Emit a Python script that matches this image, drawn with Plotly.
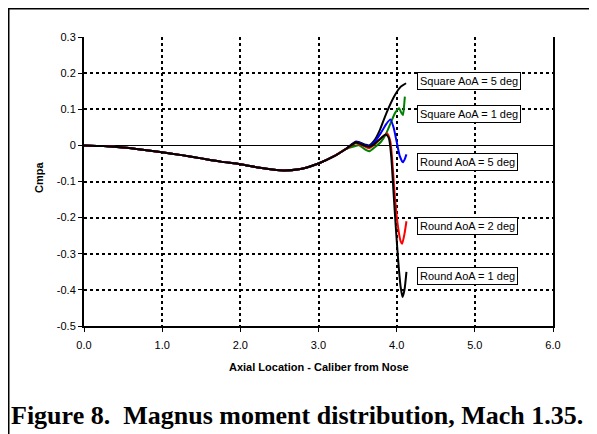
import plotly.graph_objects as go

# ---- data ----
common_x = [0.0, 0.25, 0.5, 0.75, 1.0, 1.25, 1.5, 1.75, 2.0, 2.25, 2.5, 2.75, 3.0, 3.2, 3.35]
common_y = [0.0, -0.002, -0.006, -0.012, -0.019, -0.027, -0.036, -0.045, -0.052, -0.062, -0.069, -0.066, -0.05, -0.03, -0.01]

sq5_x = [3.48, 3.6, 3.65, 3.72, 3.78, 3.83, 3.9, 3.98, 4.05, 4.12]
sq5_y = [0.011, 0.002, 0.0, 0.015, 0.04, 0.068, 0.105, 0.14, 0.162, 0.172]

sq1_x = [3.45, 3.52, 3.6, 3.65, 3.72, 3.8, 3.86, 3.92, 3.98, 4.03, 4.06, 4.08, 4.095, 4.105]
sq1_y = [-0.003, 0.0, -0.012, -0.016, -0.005, 0.01, 0.03, 0.06, 0.09, 0.103, 0.09, 0.084, 0.11, 0.135]

r5_x = [3.48, 3.6, 3.65, 3.72, 3.8, 3.87, 3.92, 3.96, 4.0, 4.04, 4.08, 4.1, 4.125]
r5_y = [0.009, 0.0, -0.002, 0.01, 0.035, 0.06, 0.072, 0.05, 0.01, -0.03, -0.047, -0.04, -0.025]

r2_x = [3.48, 3.6, 3.65, 3.72, 3.8, 3.88, 3.92, 3.95, 3.98, 4.02, 4.05, 4.07, 4.1, 4.125]
r2_y = [0.006, -0.004, -0.008, 0.003, 0.02, 0.032, 0.01, -0.06, -0.15, -0.23, -0.265, -0.272, -0.245, -0.21]

r1_x = [3.48, 3.6, 3.65, 3.72, 3.8, 3.86, 3.9, 3.93, 3.96, 3.99, 4.02, 4.05, 4.075, 4.1, 4.125]
r1_y = [0.008, -0.002, -0.004, 0.005, 0.02, 0.03, 0.02, -0.03, -0.13, -0.23, -0.32, -0.39, -0.42, -0.40, -0.35]

labels = ["Square AoA = 5 deg", "Square AoA = 1 deg", "Round AoA = 5 deg", "Round AoA = 2 deg", "Round AoA = 1 deg"]
label_y = [0.179, 0.087, -0.046, -0.223, -0.362]
colors = ["#000000", "#008000", "#0000ff", "#ff0000", "#000000"]

x_ticks = [0, 1, 2, 3, 4, 5, 6]
x_ticktext = ["0.0", "1.0", "2.0", "3.0", "4.0", "5.0", "6.0"]
y_ticks = [-0.5, -0.4, -0.3, -0.2, -0.1, 0, 0.1, 0.2, 0.3]
y_ticktext = ["-0.5", "-0.4", "-0.3", "-0.2", "-0.1", "0", "0.1", "0.2", "0.3"]

series = [(sq5_x, sq5_y), (sq1_x, sq1_y), (r5_x, r5_y), (r2_x, r2_y), (r1_x, r1_y)]

fig = go.Figure()
for (sx, sy), name, c in zip(series, labels, colors):
    fig.add_trace(go.Scatter(
        x=common_x + sx, y=common_y + sy, mode="lines", name=name,
        line=dict(color=c, width=2, shape="spline", smoothing=0.6),
        showlegend=False))

for txt, ly in zip(labels, label_y):
    fig.add_annotation(x=4.26, y=ly, xref="x", yref="y", text=txt, showarrow=False,
                       xanchor="left", yanchor="middle",
                       font=dict(family="Liberation Sans, Arial", size=11, color="black"),
                       bgcolor="white", bordercolor="black", borderwidth=1, borderpad=2)

W, H = 597, 434
L, R, T, B = 76, 545, 29, 318
def px(xp):
    return (xp - L) / (R - L)
def py(yp):
    return (B - yp) / (B - T)

fig.add_shape(type="rect", xref="paper", yref="paper",
              x0=px(0.5), x1=px(620), y0=py(460), y1=py(0.5),
              line=dict(color="black", width=2), layer="below")

fig.add_annotation(xref="paper", yref="paper", x=px(310.5), y=py(359),
                   text="<b>Axial Location - Caliber from Nose</b>", showarrow=False,
                   xanchor="center", yanchor="middle",
                   font=dict(family="Liberation Sans, Arial", size=11, color="black"))
fig.add_annotation(xref="paper", yref="paper", x=px(31), y=py(170),
                   text="<b>Cmpa</b>", showarrow=False, textangle=-90,
                   xanchor="center", yanchor="middle",
                   font=dict(family="Liberation Sans, Arial", size=11, color="black"))
fig.add_annotation(xref="paper", yref="paper", x=px(0.5), y=py(407),
                   text="<b>Figure 8.&nbsp; Magnus moment distribution, Mach 1.35.</b>", showarrow=False,
                   xanchor="left", yanchor="middle",
                   font=dict(family="Liberation Serif, Times New Roman", size=26, color="black"))

fig.update_layout(
    width=W, height=H,
    margin=dict(l=L, r=W - R, t=T, b=H - B),
    paper_bgcolor="white", plot_bgcolor="white",
    font=dict(family="Liberation Sans, Arial", size=10, color="black"),
    xaxis=dict(range=[0, 6], tickvals=x_ticks, ticktext=x_ticktext,
               showgrid=True, gridcolor="black", griddash="dot", gridwidth=1.5,
               showline=True, linecolor="black", linewidth=2, mirror=False,
               ticks="outside", ticklen=4, tickcolor="black", zeroline=False,
               ticklabelstandoff=4, tickfont=dict(size=11)),
    yaxis=dict(range=[-0.5, 0.3], tickvals=y_ticks, ticktext=y_ticktext,
               showgrid=True, gridcolor="black", griddash="dot", gridwidth=1.5,
               showline=True, linecolor="black", linewidth=2, mirror=True,
               ticks="outside", ticklen=4, tickcolor="black",
               zeroline=True, zerolinecolor="black", zerolinewidth=1,
               tickfont=dict(size=11)),
)

fig.write_html("out.html")
